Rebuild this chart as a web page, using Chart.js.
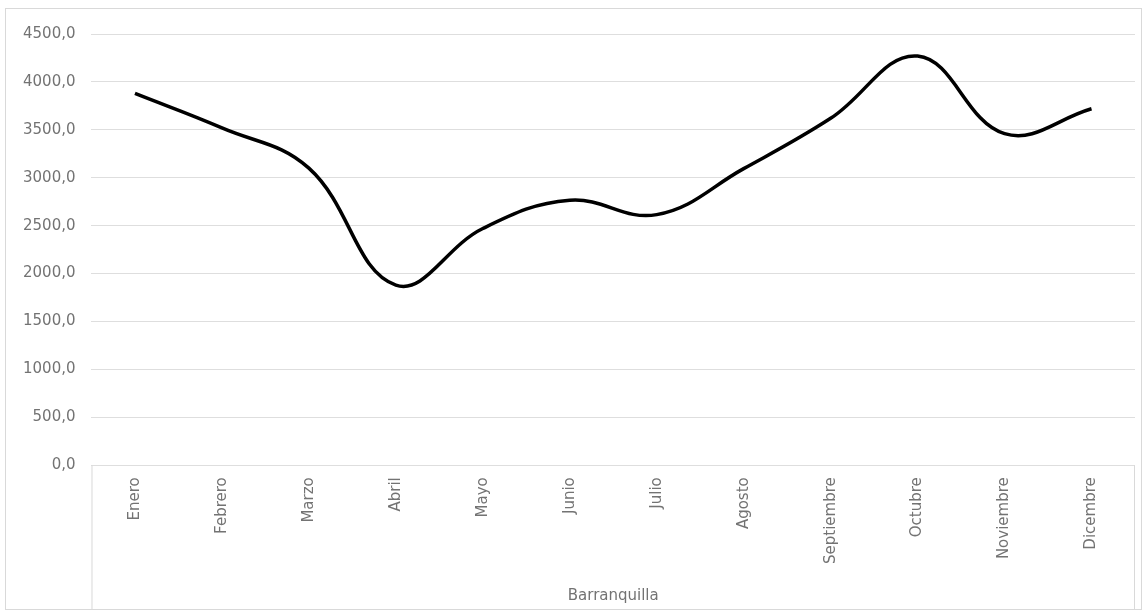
<!DOCTYPE html>
<html>
<head>
<meta charset="utf-8">
<script src="https://cdn.jsdelivr.net/npm/chart.js@4"></script>
<style>
  html, body { margin: 0; padding: 0; background: #fff; }
  #box {
    position: absolute; left: 5px; top: 8px;
    width: 1135px; height: 600px;
    border: 1px solid #d9d9d9;
  }
</style>
</head>
<body>
<div id="box"><canvas id="chart"></canvas></div>
<script>
// data
const months = ["Enero", "Febrero", "Marzo", "Abril", "Mayo", "Junio", "Julio",
  "Agosto", "Septiembre", "Octubre", "Noviembre", "Dicembre"];
const barranquilla = [3880, 3520, 3100, 1880, 2470, 2765, 2615, 3095, 3620, 4270, 3460, 3720];
const yMin = 0;
const yMax = 4500;
const yStep = 500;

const grey = "#737373";
const fontName = "'DejaVu Sans', sans-serif";

// the two edge lines of Excel's category box under the plot
const categoryBox = {
  id: "categoryBox",
  afterDraw(chart) {
    const a = chart.chartArea;
    const c = chart.ctx;
    c.save();
    c.strokeStyle = "#d9d9d9";
    c.lineWidth = 1;
    c.beginPath();
    c.moveTo(a.left + 0.5, a.bottom);
    c.lineTo(a.left + 0.5, chart.height);
    c.moveTo(a.right - 0.5, a.bottom);
    c.lineTo(a.right - 0.5, chart.height);
    c.stroke();
    c.restore();
  }
};

new Chart(document.getElementById("chart"), {
  type: "line",
  data: {
    labels: months,
    datasets: [{
      label: "Barranquilla",
      data: barranquilla,
      borderColor: "#000",
      borderWidth: 3.5,
      pointRadius: 0,
      tension: 0.4,
      fill: false
    }]
  },
  options: {
    responsive: true,
    maintainAspectRatio: false,
    animation: false,
    layout: { padding: { top: 18, right: 6, left: 1, bottom: 4 } },
    plugins: {
      legend: { display: false },
      tooltip: { enabled: false }
    },
    scales: {
      x: {
        offset: true,
        grid: { display: false },
        border: { display: false },
        ticks: {
          color: grey,
          font: { family: fontName, size: 15 },
          minRotation: 90,
          maxRotation: 90,
          padding: 4,
          autoSkip: false
        },
        title: {
          display: true,
          text: "Barranquilla",
          color: grey,
          font: { family: fontName, size: 15 },
          padding: { top: 19, bottom: 0 }
        }
      },
      y: {
        min: yMin,
        max: yMax,
        grid: { color: "#dedede", drawTicks: false },
        border: { display: false },
        ticks: {
          stepSize: yStep,
          color: grey,
          padding: 16,
          font: { family: fontName, size: 15 },
          callback: v => v.toFixed(1).replace(".", ",")
        }
      }
    }
  },
  plugins: [categoryBox]
});
</script>
</body>
</html>
